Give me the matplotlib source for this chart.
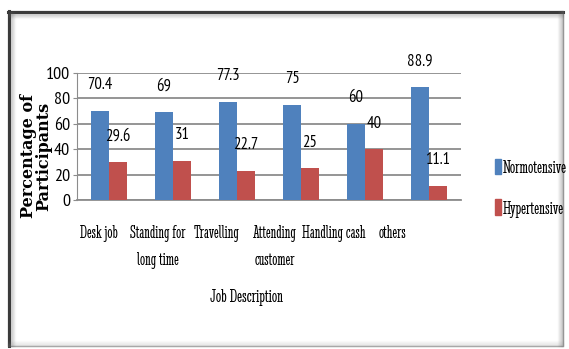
"""
Grouped bar chart: job description vs blood pressure status (percentages).
Excel-style look: grey gridlines, blue/red bars, labels floating above bars.
"""

import matplotlib.pyplot as plt
from matplotlib.patches import Rectangle, Patch
from matplotlib.lines import Line2D
import numpy as np

# ── Data ──────────────────────────────────────────────────────────────────────
JOBS = ["Desk job", "Standing for\nlong time", "Travelling",
        "Attending\ncustomer", "Handling cash", "others"]
NORMO = [70.4, 69, 77.3, 75, 60, 88.9]
HYPER = [29.6, 31, 22.7, 25, 40, 11.1]
Y_TICKS = [0, 20, 40, 60, 80, 100]

BLUE = "#4F81BD"
RED = "#C0504D"
GRID = "#8C8C8C"

NARROW = ["PT Sans Narrow", "DejaVu Sans"]
SQUASH = ["Stint Ultra Condensed", "Liberation Serif"]

W, H = 569, 349


def fx(px):
    return px / W


def fy(py):
    return 1 - py / H


def plot(out_path="out.png"):
    fig = plt.figure(figsize=(W / 100, H / 100), dpi=100)
    fig.patch.set_facecolor("white")

    # axes box measured in pixels from the reference
    ax = fig.add_axes([fx(77), fy(200), fx(461) - fx(77), fy(73) - fy(200)])

    x = np.arange(len(JOBS))
    bw = 0.28
    b1 = ax.bar(x - bw / 2, NORMO, bw, color=BLUE, zorder=3)
    b2 = ax.bar(x + bw / 2, HYPER, bw, color=RED, zorder=3)

    # value labels sit well above the bar tops, like the source
    for bars, vals in ((b1, NORMO), (b2, HYPER)):
        for r, v in zip(bars, vals):
            ax.annotate(f"{v:g}", (r.get_x() + r.get_width() / 2, v),
                        xytext=(0, 18.5), textcoords="offset points",
                        ha="center", va="center", fontsize=12,
                        family=NARROW, zorder=4)

    ax.set_xlim(-0.5, len(JOBS) - 0.5)
    ax.set_ylim(0, 100)
    ax.set_yticks(Y_TICKS)
    ax.yaxis.grid(True, color=GRID, lw=1.3, zorder=0)
    ax.tick_params(axis="y", length=3, color=GRID, pad=2, labelsize=13)
    for lab in ax.get_yticklabels():
        lab.set_family(NARROW)

    # category labels drift left in the original, so spread them a bit tighter
    ax.set_xticks(x * 0.918 - 0.157)
    ax.set_xticklabels(JOBS, fontsize=13, family=SQUASH, linespacing=1.75)
    ax.tick_params(axis="x", length=0, pad=18)

    for s in ("top", "right"):
        ax.spines[s].set_visible(False)
    ax.spines["left"].set_color(GRID)
    ax.spines["bottom"].set_color(GRID)
    ax.spines["bottom"].set_linewidth(1.3)
    ax.set_axisbelow(True)

    # axis titles
    fig.text(fx(36), fy(156), "Percentage of\nParticipants", rotation=90,
             ha="center", va="center", fontsize=11.5, fontweight="bold",
             family="DejaVu Serif", linespacing=0.88, multialignment="center")
    fig.text(fx(247), fy(298), "Job Description", ha="center", va="center",
             fontsize=13.5, fontweight="bold", family=SQUASH)

    # legend on the right
    handles = [Patch(color=BLUE, label="Normotensive"),
               Patch(color=RED, label="Hypertensive")]
    fig.legend(handles=handles, loc="upper left",
               bbox_to_anchor=(fx(487), fy(151)), frameon=False,
               handlelength=0.35, handleheight=0.9, handletextpad=0.1,
               labelspacing=1.2, borderaxespad=0,
               prop={"family": SQUASH, "size": 13.5})

    # ── outer frame with a soft shadow ────────────────────────────────────────
    fig.patches.append(Rectangle((fx(8), fy(346)), fx(563) - fx(8),
                                 fy(11) - fy(346), transform=fig.transFigure,
                                 fill=False, ec="#B0B0B0", lw=1.0))
    fig.lines.append(Line2D([fx(8), fx(563)], [fy(11.5), fy(11.5)],
                            transform=fig.transFigure, color="#3A3A3A", lw=2.2))
    fig.lines.append(Line2D([fx(8.5), fx(8.5)], [fy(11), fy(346)],
                            transform=fig.transFigure, color="#3A3A3A", lw=2.2))
    for i, a in enumerate(np.linspace(0.35, 0.05, 6)):
        fig.lines.append(Line2D([fx(563 - i), fx(563 - i)], [fy(11), fy(346)],
                                transform=fig.transFigure, color="#707070",
                                alpha=a, lw=1))
        fig.lines.append(Line2D([fx(8), fx(563)], [fy(346 - i), fy(346 - i)],
                                transform=fig.transFigure, color="#909090",
                                alpha=a * 0.6, lw=1))
    for i, a in enumerate(np.linspace(0.25, 0.03, 5)):
        fig.lines.append(Line2D([fx(11 + i), fx(11 + i)], [fy(12), fy(346)],
                                transform=fig.transFigure, color="#606060",
                                alpha=a, lw=1))
        fig.lines.append(Line2D([fx(9), fx(563)], [fy(14 + i), fy(14 + i)],
                                transform=fig.transFigure, color="#606060",
                                alpha=a, lw=1))

    fig.savefig(out_path, dpi=100, facecolor="white")


if __name__ == "__main__":
    plot()
